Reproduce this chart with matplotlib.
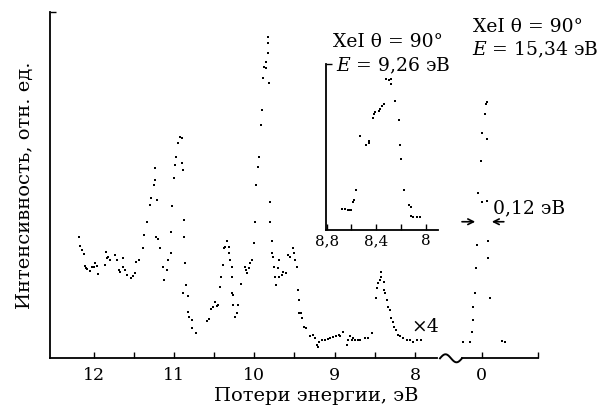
import numpy as np
import matplotlib
matplotlib.use("Agg")
import matplotlib.pyplot as plt
from matplotlib.lines import Line2D

plt.rcParams['font.family'] = ['DejaVu Serif']
plt.rcParams['mathtext.fontset'] = 'dejavuserif'

# ---------------- data ----------------
# energy-loss spectrum, x4 scale (eV, arb. units)
loss_energy = [12.18, 12.17, 12.14, 12.12, 12.11, 12.08, 12.09, 12.05, 12.02, 12.00,
               11.98, 11.96, 11.94, 11.86, 11.85, 11.83, 11.82, 11.80, 11.73, 11.71,
               11.69, 11.67, 11.64, 11.64, 11.61, 11.59, 11.54, 11.51, 11.49, 11.47,
               11.44, 11.39, 11.37, 11.34, 11.30, 11.29, 11.25, 11.24, 11.24, 11.22,
               11.21, 11.20, 11.17, 11.14, 11.12, 11.09, 11.07, 11.04, 11.04, 11.02,
               11.00, 10.99, 10.97, 10.95, 10.93, 10.90, 10.90, 10.89, 10.89, 10.88,
               10.88, 10.86, 10.85, 10.83, 10.83, 10.81, 10.78, 10.77, 10.73,
               10.59, 10.57, 10.54, 10.51, 10.49, 10.47, 10.45, 10.43, 10.41, 10.39,
               10.38, 10.37, 10.34, 10.32, 10.32, 10.30, 10.28, 10.28, 10.28, 10.26,
               10.26, 10.24, 10.22, 10.20, 10.17, 10.12, 10.10, 10.09, 10.07, 10.05,
               10.03, 10.00, 9.99, 9.98, 9.96, 9.94, 9.92, 9.91, 9.89, 9.88,
               9.85, 9.85, 9.83, 9.83, 9.83, 9.82, 9.81, 9.80, 9.78, 9.78,
               9.77, 9.76, 9.74, 9.73, 9.71, 9.69, 9.69, 9.66, 9.64, 9.61,
               9.58, 9.55, 9.52, 9.51, 9.49, 9.47, 9.46, 9.45, 9.44, 9.42,
               9.41, 9.38, 9.36, 9.31, 9.27, 9.25, 9.22, 9.21, 9.19, 9.16,
               9.12, 9.08, 9.06, 9.02, 8.98, 8.95, 8.93, 8.90, 8.85, 8.83,
               8.81, 8.79, 8.77, 8.75, 8.71, 8.68, 8.62, 8.58, 8.54, 8.49,
               8.47, 8.46, 8.44, 8.42, 8.42, 8.39, 8.39, 8.37, 8.35, 8.33,
               8.31, 8.30, 8.28, 8.26, 8.24, 8.21, 8.19, 8.15, 8.10, 8.06,
               8.02, 7.98, 7.92]
loss_intensity = [34.9, 32.4, 31.3, 30.1, 26.6, 25.7, 26.0, 25.3, 26.4, 26.4,
                  27.4, 26.6, 24.3, 26.9, 30.8, 28.8, 29.3, 28.4, 29.8, 28.4,
                  25.5, 25.0, 28.8, 26.4, 25.5, 24.0, 23.1, 23.8, 24.5, 27.9,
                  28.4, 31.7, 35.6, 39.4, 44.2, 46.2, 50.0, 51.4, 54.8, 35.1,
                  45.7, 34.3, 31.7, 26.4, 22.6, 25.5, 28.4, 30.3, 36.5, 43.8,
                  51.9, 55.8, 58.2, 62.0, 63.9, 63.5, 56.3, 54.3, 18.8, 39.9,
                  34.9, 27.4, 21.2, 18.0, 13.5, 12.0, 11.1, 8.7, 7.2,
                  10.9, 11.3, 14.1, 14.9, 16.3, 15.1, 15.4, 20.5, 23.6, 26.9,
                  31.7, 32.2, 33.7, 32.2, 30.3, 28.4, 26.4, 23.6, 18.8, 18.3,
                  15.4, 12.0, 13.0, 15.4, 21.4, 26.4, 25.5, 24.5, 26.0, 27.4,
                  28.4, 33.2, 39.4, 50.0, 55.3, 58.2, 67.3, 71.6, 80.8, 84.1,
                  83.7, 85.6, 88.0, 90.9, 92.8, 79.3, 45.2, 39.4, 33.7, 30.3,
                  29.3, 26.4, 23.6, 21.2, 26.0, 28.4, 23.6, 24.0, 25.0, 24.7,
                  29.8, 29.3, 31.7, 30.3, 28.4, 26.4, 19.7, 16.8, 13.0, 13.0,
                  11.5, 9.1, 8.7, 6.4, 6.7, 5.8, 3.8, 3.4, 4.8, 5.3,
                  5.3, 5.5, 5.8, 6.1, 6.3, 6.7, 6.3, 7.7, 3.8, 5.3,
                  6.3, 5.3, 5.8, 5.3, 5.3, 5.3, 5.8, 5.8, 7.4, 17.3,
                  20.2, 21.6, 22.6, 25.0, 23.6, 22.1, 19.7, 18.8, 16.8, 14.9,
                  13.9, 11.5, 10.6, 9.1, 8.2, 6.7, 6.3, 5.8, 5.3, 5.3,
                  4.8, 5.3, 5.3]

# elastic peak (E = 15.34 eV)
elastic_energy = [-0.062, -0.050, -0.041, 0.000, -0.062, 0.012, 0.042, 0.000, -0.062,
                  0.063, -0.083, -0.083, 0.071, 0.083, -0.104, 0.104, 0.112, 0.125,
                  0.228, 0.145, -0.249, -0.290]
elastic_intensity = [74.0, 73.5, 70.4, 64.9, 63.3, 56.9, 47.6, 45.0, 45.4,
                     32.7, 33.7, 29.0, 26.0, 18.8, 17.3, 14.9, 11.1, 7.5,
                     4.8, 4.8, 5.0, 4.6]

# inset spectrum (E = 9.26 eV)
inset_energy = [8.68, 8.65, 8.63, 8.62, 8.60, 8.59, 8.58, 8.56, 8.53, 8.48,
                8.46, 8.46, 8.43, 8.42, 8.41, 8.38, 8.37, 8.35, 8.34, 8.32,
                8.30, 8.28, 8.28, 8.25, 8.22, 8.21, 8.20, 8.18, 8.14, 8.12,
                8.12, 8.10, 8.07, 8.05]
inset_intensity = [12.5, 12.5, 12.1, 12.1, 12.1, 16.8, 18.0, 24.0, 55.8, 50.5,
                   51.5, 52.9, 66.3, 69.1, 70.3, 70.7, 71.7, 73.9, 74.7, 89.7,
                   89.3, 89.7, 86.5, 76.6, 65.3, 50.5, 42.2, 23.8, 14.9, 13.9,
                   8.5, 7.7, 7.7, 7.7]

main_ticks = [12, 11.5, 11, 10.5, 10, 9.5, 9, 8.5, 8]
main_labels = ['12', '', '11', '', '10', '', '9', '', '8']
inset_ticks = [8.8, 8.6, 8.4, 8.2, 8.0]
inset_labels = ['8,8', '', '8,4', '', '8']

# ---------------- layout ----------------
W, H = 599, 405
fig = plt.figure(figsize=(W / 100, H / 100), dpi=100)

def rect(l, r, t, b):
    return [l / W, 1 - b / H, (r - l) / W, (b - t) / H]

lw = 1.3
ms = 1.7

ax = fig.add_axes(rect(50, 436.7, 11.7, 358.3))
ax.plot(loss_energy, loss_intensity, 's', color='black', ms=ms, mew=0)
ax.set_xlim(12.543, 7.730)
ax.set_ylim(0, 100)
for s in ['top', 'right']:
    ax.spines[s].set_visible(False)
for s in ['left', 'bottom']:
    ax.spines[s].set_linewidth(lw)
ax.set_xticks(main_ticks)
ax.set_xticklabels(main_labels)
ax.set_yticks([100])
ax.set_yticklabels([''])
ax.tick_params(direction='in', length=4.5, width=1, labelsize=12.5, pad=6)

ax2 = fig.add_axes(rect(461.7, 538.3, 11.7, 358.3))
ax2.plot(elastic_energy, elastic_intensity, 's', color='black', ms=ms, mew=0)
ax2.set_xlim(0.249, -0.704)
ax2.set_ylim(0, 100)
for s in ['top', 'right', 'left']:
    ax2.spines[s].set_visible(False)
ax2.spines['bottom'].set_linewidth(lw)
ax2.set_yticks([])
ax2.set_xticks([0, -0.704])
ax2.set_xticklabels(['0', ''])
ax2.tick_params(direction='in', length=4.5, width=1, labelsize=12.5, pad=6)
ax2.patch.set_alpha(0)

axi = fig.add_axes(rect(326, 438.3, 64, 230))
axi.plot(inset_energy, inset_intensity, 's', color='black', ms=ms, mew=0)
axi.set_xlim(8.805, 7.90)
axi.set_ylim(0, 98.6)
for s in ['top', 'right']:
    axi.spines[s].set_visible(False)
for s in ['left', 'bottom']:
    axi.spines[s].set_linewidth(lw)
axi.set_xticks(inset_ticks)
axi.set_xticklabels(inset_labels)
axi.set_yticks([98.6])
axi.set_yticklabels([''])
axi.tick_params(direction='in', length=4.5, width=1, labelsize=11, pad=3)
axi.patch.set_alpha(0)

# axis break symbol
t = np.linspace(0, 1, 60)
fig.add_artist(Line2D((440 + 22 * t) / W, 1 - (358.3 - 4.0 * np.sin(2 * np.pi * t)) / H,
                      transform=fig.transFigure, color='black', lw=1.4))

# FWHM arrows
ax2.annotate('', xy=(0.046, 39.4), xytext=(0.28, 39.4),
             arrowprops=dict(arrowstyle='->', color='black', lw=1.2),
             annotation_clip=False)
ax2.annotate('', xy=(-0.091, 39.4), xytext=(-0.31, 39.4),
             arrowprops=dict(arrowstyle='->', color='black', lw=1.2),
             annotation_clip=False)

fs = 13.5
fig.text(473 / W, 1 - 31.7 / H, 'XeI θ = 90°', fontsize=fs, va='baseline', ha='left')
fig.text(472 / W, 1 - 55 / H, '$E$ = 15,34 эВ', fontsize=fs, va='baseline', ha='left')
fig.text(333 / W, 1 - 46.7 / H, 'XeI θ = 90°', fontsize=fs, va='baseline', ha='left')
fig.text(336 / W, 1 - 71.7 / H, '$E$ = 9,26 эВ', fontsize=fs, va='baseline', ha='left')
fig.text(492.7 / W, 1 - 213 / H, '0,12 эВ', fontsize=fs, va='baseline', ha='left')
fig.text(411.7 / W, 1 - 332 / H, '×4', fontsize=fs, va='baseline', ha='left')

fig.text(25 / W, 1 - 185 / H, 'Интенсивность, отн. ед.', fontsize=14,
         rotation=90, ha='center', va='center')
fig.text(316 / W, 1 - 401 / H, 'Потери энергии, эВ', fontsize=14,
         ha='center', va='baseline')

fig.savefig('out.png', dpi=100)
